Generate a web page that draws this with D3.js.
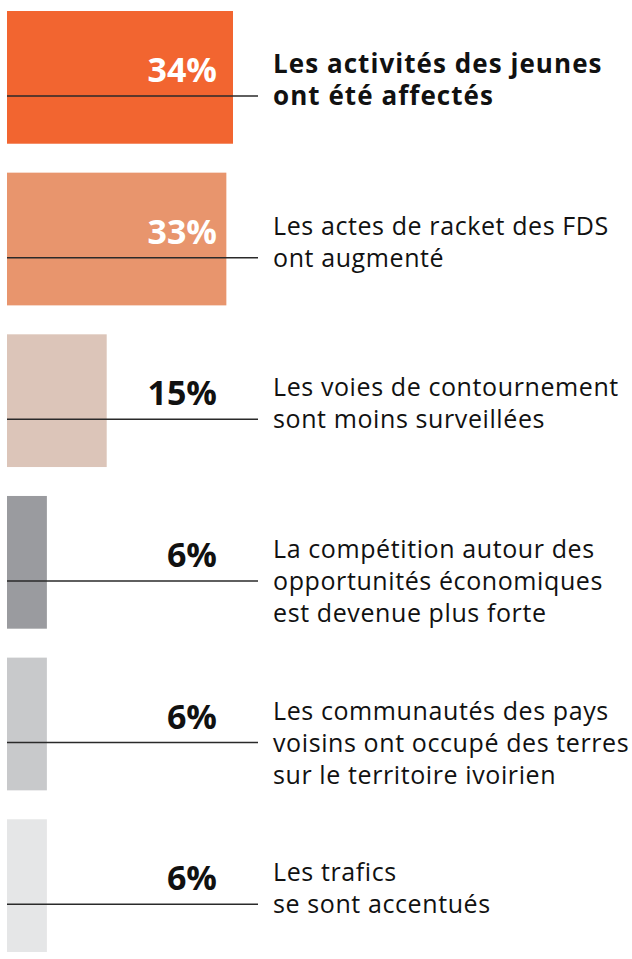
<!DOCTYPE html>
<html>
<head>
<meta charset="utf-8">
<script src="https://cdn.jsdelivr.net/npm/d3@7"></script>
<style>
  body { margin: 0; background: #fff; }
  text { font-family: "Open Sans", Roboto, sans-serif; }
</style>
</head>
<body>
<svg id="chart"></svg>
<script>
// Chart data
const values = [34, 33, 15, 6, 6, 6];
const labels = [
  ["Les activités des jeunes", "ont été affectés"],
  ["Les actes de racket des FDS", "ont augmenté"],
  ["Les voies de contournement", "sont moins surveillées"],
  ["La compétition autour des", "opportunités économiques", "est devenue plus forte"],
  ["Les communautés des pays", "voisins ont occupé des terres", "sur le territoire ivoirien"],
  ["Les trafics", "se sont accentués"]
];
const barColors = ["#f26530", "#e8956d", "#dcc5b9", "#9a9b9f", "#c8c9cb", "#e5e6e7"];
const valueColors = ["#fff", "#fff", "#111", "#111", "#111", "#111"];

const width = 632, height = 959;

const svg = d3.select("#chart")
  .attr("width", width)
  .attr("height", height);

// Scales
const y = d3.scaleBand()
  .domain(d3.range(values.length))
  .range([11, 952])
  .paddingInner(0.179)
  .paddingOuter(0);

const x = d3.scaleLinear()
  .domain([0, 34])
  .range([7, 233]);

const rows = svg.selectAll(".row")
  .data(values)
  .enter().append("g")
  .attr("class", "row")
  .attr("transform", (d, i) => `translate(0,${y(i)})`);

// Bars
rows.append("rect")
  .attr("x", x(0))
  .attr("y", 0)
  .attr("width", d => x(d) - x(0))
  .attr("height", y.bandwidth())
  .attr("fill", (d, i) => barColors[i]);

const ruleY = 85;

// Horizontal rule through each bar
rows.append("line")
  .attr("x1", 7)
  .attr("x2", 258)
  .attr("y1", ruleY)
  .attr("y2", ruleY)
  .attr("stroke", "#2a2a2a")
  .attr("stroke-width", 1.5);

// Percentage labels
rows.append("text")
  .attr("x", 217)
  .attr("y", ruleY - 14)
  .attr("text-anchor", "end")
  .attr("fill", (d, i) => valueColors[i])
  .style("font-size", "34px")
  .style("font-weight", "bold")
  .text(d => `${d}%`);

// Category labels, one text per line
rows.each(function(d, i) {
  d3.select(this).selectAll(".label")
    .data(labels[i])
    .enter().append("text")
    .attr("class", "label")
    .attr("x", 273)
    .attr("y", (t, j) => ruleY - 23 + j * 32)
    .attr("fill", "#111")
    .style("font-size", i === 0 ? "26px" : "25px")
    .style("font-weight", i === 0 ? "bold" : "normal")
    .style("letter-spacing", i === 0 ? "1.05px" : "0.6px")
    .text(t => t);
});
</script>
</body>
</html>
